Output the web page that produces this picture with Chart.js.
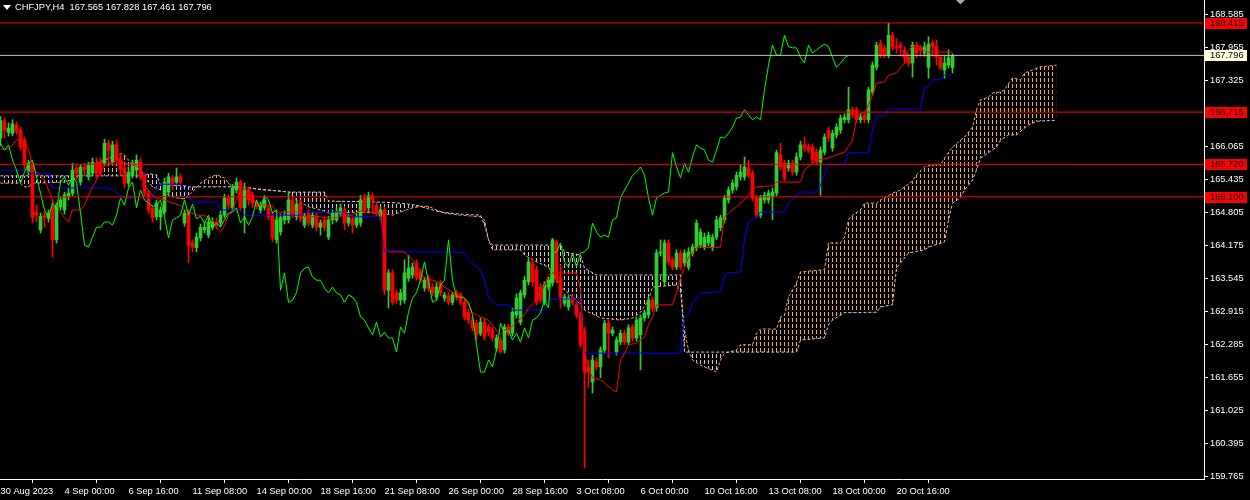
<!DOCTYPE html>
<html>
<head>
<meta charset="utf-8">
<script src="https://cdn.jsdelivr.net/npm/chart.js@4.4.0/dist/chart.umd.min.js"></script>
<style>
  html, body { margin: 0; padding: 0; background: #000; }
  #wrap { position: relative; width: 1250px; height: 500px; }
  #title { position: absolute; left: 15px; top: 2px; color: #fff; font: 9.3px "Liberation Sans", Arial, sans-serif; white-space: pre; }
  #arrow { position: absolute; left: 3px; top: 5px; width: 0; height: 0;
           border-left: 4px solid transparent; border-right: 4px solid transparent; border-top: 5px solid #fff; }
</style>
</head>
<body>
<div id="wrap">
  <canvas id="chart" width="1250" height="500"></canvas>
  <div id="arrow"></div>
  <div id="title">CHFJPY,H4  167.565 167.828 167.461 167.796</div>
</div>
<script>
// CHFJPY H4 candles, bar 0 = 30 Aug 2023 08:00
var opens = [
  166.22,166.55,166.33,166.31,166.47,166.37,166.18,165.57,165.71,164.81,
  164.47,164.75,164.69,164.90,164.28,164.90,164.85,165.10,165.17,165.65,
  165.38,165.67,165.48,165.55,165.74,165.76,165.74,166.12,165.76,166.09,
  165.84,165.65,165.36,165.51,165.61,165.76,165.48,165.17,164.89,164.72,
  164.72,164.81,165.19,165.46,165.38,165.48,164.60,164.79,164.22,164.13,
  164.32,164.47,164.37,164.52,164.62,164.60,164.75,165.08,164.89,165.23,
  165.38,164.89,165.23,165.13,164.98,164.85,164.90,164.89,164.75,164.28,
  164.43,164.66,164.66,165.04,164.72,164.98,164.56,164.79,164.56,164.73,
  164.52,164.66,164.33,164.66,164.66,164.79,164.85,164.60,164.68,164.56,
  164.60,165.08,164.89,165.12,164.94,164.72,164.85,163.32,163.65,163.27,
  163.13,163.13,163.55,163.61,163.84,163.67,163.36,163.55,163.38,163.19,
  163.46,163.17,163.21,163.09,163.27,163.23,163.09,162.90,162.75,162.69,
  162.50,162.71,162.62,162.56,162.22,162.37,162.18,162.62,162.50,162.85,
  162.71,163.23,163.48,163.84,163.71,163.38,163.09,163.38,163.46,164.24,
  163.57,163.07,163.00,163.17,163.04,162.85,162.56,161.86,161.57,161.95,
  161.86,162.18,162.69,162.50,162.14,162.33,162.50,162.33,162.62,162.41,
  162.47,162.79,162.85,163.13,162.98,164.03,163.48,164.22,163.90,163.76,
  164.03,163.84,163.76,164.03,164.13,164.18,164.14,164.22,164.13,164.33,
  164.51,164.66,165.04,165.23,165.29,165.48,165.48,165.65,165.55,165.08,
  164.75,165.04,165.04,165.10,165.17,165.90,165.74,165.65,165.74,165.57,
  165.86,166.09,166.05,166.05,165.95,165.76,165.95,166.37,166.03,166.28,
  166.37,166.57,166.57,166.76,166.76,166.57,166.66,166.57,167.10,167.57,
  168.03,167.94,167.80,168.18,167.96,167.99,167.90,167.76,167.65,167.99,
  167.94,167.84,167.57,168.03,167.97,167.76,167.52,167.61,167.565
];
var highs = [
  166.63,166.61,166.51,166.57,166.53,166.43,166.24,165.80,165.76,164.94,
  164.79,164.81,164.85,165.04,164.98,165.10,165.19,165.27,165.74,165.71,
  165.72,165.74,165.76,165.84,165.84,165.84,166.20,166.18,166.16,166.18,
  165.90,165.71,165.67,165.80,165.90,165.84,165.54,165.23,164.94,165.04,
  164.91,165.46,165.55,165.51,165.65,165.54,164.85,164.85,164.28,164.41,
  164.58,164.62,164.70,164.70,164.70,164.83,165.15,165.13,165.34,165.46,
  165.42,165.36,165.29,165.19,165.04,165.00,165.12,164.94,164.81,164.72,
  164.77,164.83,165.17,165.10,165.04,165.04,164.79,164.85,164.81,164.79,
  164.66,164.72,164.73,164.85,164.89,164.96,164.91,164.77,164.73,164.79,
  165.13,165.15,165.19,165.17,165.00,164.92,164.91,163.71,163.71,163.32,
  163.34,163.90,163.99,163.84,163.90,163.73,163.57,163.61,163.44,163.46,
  163.51,163.28,163.27,163.28,163.32,163.28,163.15,162.96,162.81,162.75,
  162.79,162.79,162.67,162.62,162.47,162.43,162.67,162.67,162.98,163.25,
  163.32,163.59,163.93,163.93,163.78,163.44,163.48,163.57,164.31,164.28,
  163.80,163.25,163.23,163.23,163.09,162.90,162.62,161.99,162.08,162.03,
  162.24,162.75,162.75,162.62,162.43,162.56,162.56,162.66,162.67,162.81,
  162.85,162.94,163.19,163.19,164.09,164.28,164.28,164.28,163.95,164.09,
  164.09,164.09,164.13,164.20,164.66,164.49,164.41,164.43,164.39,164.73,
  164.75,165.13,165.29,165.42,165.57,165.71,165.86,165.80,165.61,165.13,
  165.13,165.19,165.23,165.27,165.99,166.12,165.80,165.80,165.80,165.94,
  166.16,166.24,166.11,166.11,166.01,166.05,166.30,166.43,166.37,166.49,
  166.66,166.68,167.19,166.81,166.81,166.68,166.72,167.19,167.67,168.05,
  168.09,167.99,168.41,168.24,168.11,168.05,167.96,167.82,168.05,168.05,
  167.99,168.05,168.15,168.09,168.09,167.80,167.80,167.90,167.828
];
var lows = [
  166.08,166.22,166.26,166.26,166.29,165.99,165.61,165.52,164.60,164.62,
  164.41,164.52,164.62,163.95,164.22,164.85,164.77,165.04,165.12,165.42,
  165.32,165.51,165.42,165.50,165.46,165.50,165.69,165.76,165.71,165.74,
  165.51,165.27,165.30,165.46,165.46,165.42,165.12,164.79,164.62,164.66,
  164.47,164.77,165.14,165.23,165.30,165.30,164.54,163.84,164.05,164.05,
  164.26,164.41,164.32,164.47,164.49,164.54,164.70,164.87,164.83,165.17,
  164.83,164.41,164.94,164.90,164.87,164.79,164.85,164.66,164.24,164.22,
  164.37,164.58,164.60,164.70,164.66,164.62,164.51,164.54,164.51,164.45,
  164.37,164.45,164.28,164.58,164.62,164.73,164.47,164.54,164.41,164.51,
  164.54,164.79,164.83,164.79,164.73,164.66,163.23,162.98,163.04,163.07,
  163.04,163.07,163.49,163.55,163.51,163.46,163.30,163.30,163.21,163.13,
  163.21,163.11,163.04,163.04,163.13,163.04,162.75,162.69,162.54,162.37,
  162.45,162.37,162.45,162.35,162.16,162.12,162.12,162.45,162.45,162.79,
  162.66,163.17,163.42,163.40,163.04,163.07,163.04,163.32,163.40,163.46,
  162.98,163.02,162.94,163.04,162.79,162.24,159.93,161.47,161.36,161.80,
  161.65,162.12,162.03,162.45,162.08,162.28,162.28,162.28,162.35,162.35,
  161.80,162.73,162.79,162.92,162.92,163.97,163.42,163.80,163.71,163.71,
  163.71,163.78,163.71,163.97,164.07,164.13,164.09,164.16,164.07,164.28,
  164.45,164.60,164.98,165.17,165.23,165.42,165.42,165.46,165.02,164.70,
  164.70,164.98,164.98,164.66,165.12,165.61,165.40,165.59,165.51,165.51,
  165.80,165.97,165.94,165.74,165.71,165.13,165.90,166.16,165.97,166.22,
  166.31,166.51,166.51,166.60,166.51,166.51,166.51,166.51,167.04,167.52,
  167.75,167.75,167.75,167.90,167.84,167.78,167.65,167.59,167.38,167.75,
  167.78,167.78,167.36,167.78,167.61,167.52,167.36,167.56,167.461
];
var closes = [
  166.55,166.37,166.41,166.49,166.35,166.05,165.71,165.74,164.71,164.75,
  164.73,164.71,164.79,164.28,164.94,165.04,165.14,165.17,165.61,165.55,
  165.67,165.63,165.71,165.76,165.55,165.55,166.12,165.99,166.09,165.80,
  165.61,165.36,165.57,165.74,165.80,165.48,165.17,164.85,164.70,164.98,
  164.85,165.38,165.48,165.32,165.48,165.38,164.79,164.18,164.14,164.33,
  164.52,164.52,164.62,164.62,164.56,164.75,165.08,164.94,165.27,165.38,
  164.89,165.23,165.04,164.98,164.92,164.94,165.04,164.72,164.32,164.66,
  164.70,164.75,165.04,164.75,164.96,164.68,164.73,164.60,164.75,164.52,
  164.60,164.52,164.66,164.79,164.81,164.89,164.60,164.72,164.56,164.72,
  165.04,164.85,165.12,165.04,164.79,164.85,163.32,163.65,163.09,163.13,
  163.27,163.65,163.74,163.76,163.57,163.51,163.51,163.36,163.27,163.38,
  163.27,163.23,163.09,163.23,163.19,163.09,162.81,162.75,162.60,162.47,
  162.71,162.43,162.52,162.41,162.41,162.14,162.62,162.50,162.90,163.17,
  163.27,163.51,163.86,163.48,163.09,163.13,163.42,163.51,164.28,163.51,
  163.19,163.19,163.17,163.09,162.85,162.28,161.76,161.76,161.99,161.86,
  162.18,162.69,162.50,162.56,162.37,162.50,162.33,162.60,162.41,162.75,
  162.79,162.89,163.13,162.98,164.03,164.05,164.22,163.86,163.76,164.03,
  163.76,164.03,164.05,164.14,164.60,164.43,164.33,164.37,164.33,164.66,
  164.70,165.08,165.23,165.36,165.51,165.57,165.67,165.51,165.08,164.75,
  165.08,165.13,165.17,165.19,165.94,165.67,165.46,165.74,165.57,165.86,
  166.09,166.03,165.99,165.80,165.76,165.99,166.24,166.22,166.31,166.43,
  166.60,166.62,166.76,166.66,166.57,166.62,166.57,167.14,167.61,167.99,
  167.80,167.80,168.18,167.96,167.94,167.94,167.76,167.65,167.99,167.84,
  167.90,167.96,168.01,167.97,167.76,167.57,167.65,167.75,167.796
];

// Ichimoku lines, [bar, price] vertices
var tenkanPts = [
  [0,166.01],[2,166.01],[3,166.09],[4,166.18],[5,166.22],[6,166.18],[7,165.99],[8,165.71],[9,165.57],
  [10,165.50],[11,165.42],[12,165.23],[13,165.04],[14,164.94],[15,164.81],[16,164.70],[17,164.62],
  [18,164.85],[20,164.85],[21,164.94],[22,165.13],[23,165.29],[24,165.42],[25,165.57],[26,165.69],
  [27,165.73],[28,165.74],[29,165.80],[31,165.74],[33,165.71],[35,165.65],[36,165.32],[37,165.23],
  [38,165.13],[39,165.08],[41,165.04],[43,164.98],[45,164.94],[46,164.85],[49,164.75],[51,164.75],
  [53,164.66],[54,164.51],[55,164.43],[56,164.56],[57,164.75],[58,164.85],[59,165.04],[60,165.27],
  [62,165.27],[63,165.10],[64,164.94],[68,164.94],[69,164.79],[71,164.81],[75,164.81],[76,164.72],
  [80,164.72],[81,164.70],[84,164.70],[85,164.75],[88,164.75],[89,164.79],[90,164.83],[92,164.83],
  [93,164.79],[95,164.79],[96,164.12],[97,164.05],[101,164.05],[102,163.97],[103,163.90],[104,163.80],
  [105,163.65],[106,163.55],[108,163.51],[110,163.46],[111,163.38],[113,163.28],[115,163.23],
  [116,163.17],[118,162.89],[120,162.81],[122,162.75],[125,162.47],[126,162.56],[128,162.64],
  [129,162.71],[131,162.85],[132,162.98],[134,163.13],[135,163.23],[137,163.61],[138,163.65],
  [144,163.65],[145,163.32],[146,162.12],[147,161.84],[148,161.65],[150,161.61],[151,161.55],
  [153,161.42],[154,161.38],[155,161.99],[156,162.12],[157,162.28],[159,162.31],[161,162.43],
  [162,162.66],[163,162.81],[164,163.04],[168,163.04],[169,163.27],[170,163.55],[171,163.76],
  [172,163.95],[174,164.13],[180,164.14],[181,164.72],[182,164.79],[184,164.91],[186,165.04],
  [188,165.23],[189,165.29],[193,165.31],[194,165.38],[200,165.38],[201,165.61],[203,165.74],
  [204,165.80],[207,165.84],[209,165.90],[211,165.95],[213,166.18],[214,166.57],[215,166.70],
  [216,166.70],[217,166.85],[218,167.04],[219,167.27],[221,167.29],[222,167.42],[224,167.46],
  [225,167.56],[226,167.65],[227,167.90],[228,167.96],[230,167.96],[231,167.86],[238,167.86]
];
var kijunPts = [
  [0,165.61],[6,165.61],[7,165.57],[8,165.55],[12,165.55],[13,165.27],[27,165.27],[28,165.23],
  [30,165.13],[31,165.08],[38,165.08],[39,165.29],[40,165.34],[45,165.34],[46,165.23],[48,165.00],
  [54,165.00],[55,164.85],[60,164.85],[61,164.75],[75,164.75],[76,164.81],[86,164.81],[87,164.72],
  [95,164.72],[96,164.07],[100,164.07],[101,164.05],[114,164.05],[116,164.03],[117,163.90],
  [119,163.76],[120,163.71],[121,163.51],[122,163.17],[123,163.10],[124,163.04],[127,163.04],
  [128,162.94],[136,162.94],[137,163.15],[145,163.15],[146,162.12],[170,162.12],[171,162.81],
  [172,162.85],[173,163.08],[174,163.19],[175,163.27],[180,163.29],[181,163.61],[182,163.65],
  [185,163.67],[186,164.28],[187,164.62],[189,164.70],[190,164.81],[196,164.81],[197,164.98],
  [199,165.13],[200,165.19],[204,165.19],[205,165.32],[206,165.55],[207,165.71],[211,165.71],
  [212,165.94],[217,165.94],[218,166.37],[219,166.64],[221,166.64],[222,166.77],[230,166.77],
  [231,167.19],[232,167.21],[233,167.33],[235,167.33],[236,167.42],[238,167.42]
];
var spanAPts = [
  [0,165.36],[5,165.36],[6,165.29],[7,165.29],[8,165.36],[16,165.38],[19,165.46],[20,165.57],
  [22,165.71],[24,165.74],[26,165.80],[28,165.86],[30,165.92],[31,165.90],[32,165.80],[33,165.71],
  [35,165.61],[36,165.50],[37,165.38],[38,165.29],[40,165.23],[42,165.13],[44,165.08],[46,165.06],
  [47,165.13],[49,165.27],[50,165.36],[52,165.46],[54,165.52],[56,165.46],[57,165.36],[58,165.29],
  [62,165.27],[66,165.23],[70,165.21],[72,165.19],[74,165.04],[77,164.91],[80,164.85],[82,164.79],
  [90,164.81],[95,164.79],[98,164.75],[100,164.81],[103,164.89],[105,164.92],[107,164.92],
  [109,164.85],[111,164.79],[115,164.75],[120,164.72],[121,164.66],[122,164.28],[123,164.09],
  [130,164.09],[131,163.99],[134,163.86],[137,163.76],[139,163.51],[141,163.32],[144,163.13],
  [146,162.94],[150,162.79],[155,162.75],[158,162.79],[160,162.90],[162,163.13],[163,163.38],
  [169,163.42],[170,163.29],[171,162.56],[172,162.18],[173,161.99],[175,161.89],[179,161.76],
  [180,161.99],[181,162.12],[184,162.18],[185,162.28],[188,162.28],[189,162.50],[190,162.58],
  [194,162.58],[195,162.81],[196,162.85],[197,163.19],[199,163.46],[200,163.67],[206,163.71],
  [207,164.22],[210,164.22],[211,164.33],[212,164.66],[213,164.75],[215,164.85],[216,164.98],
  [219,164.98],[220,165.04],[221,165.08],[223,165.17],[225,165.23],[226,165.29],[228,165.40],
  [229,165.52],[231,165.67],[233,165.71],[235,165.71],[236,165.84],[238,166.05],[240,166.18],
  [241,166.24],[243,166.43],[244,166.76],[245,166.95],[247,167.00],[248,167.08],[250,167.10],
  [251,167.14],[253,167.37],[255,167.33],[256,167.46],[258,167.52],[260,167.58],[264,167.61]
];
var spanBPts = [
  [0,165.50],[36,165.50],[37,165.54],[39,165.52],[40,165.33],[46,165.31],[47,165.29],[58,165.29],
  [62,165.27],[72,165.19],[81,165.19],[82,165.02],[95,165.00],[100,164.98],[104,164.94],
  [107,164.87],[110,164.81],[115,164.77],[120,164.75],[121,164.56],[122,164.28],[123,164.18],
  [140,164.18],[141,164.05],[145,163.99],[146,163.74],[149,163.61],[170,163.61],[171,162.14],
  [199,162.14],[200,162.37],[206,162.41],[207,162.66],[208,162.75],[211,162.89],[219,162.90],
  [220,163.00],[223,163.04],[224,163.74],[225,163.84],[227,164.03],[231,164.09],[232,164.14],
  [236,164.24],[237,164.66],[238,164.98],[240,165.08],[241,165.23],[243,165.42],[244,165.61],
  [245,165.84],[247,165.94],[249,166.05],[250,166.18],[252,166.28],[254,166.28],[256,166.41],
  [257,166.47],[259,166.54],[264,166.56]
];
var chikouShift = 26;

var levelPrices = [168.415, 166.715, 165.720, 165.100];
var bidPrice = 167.796;
var priceTicks = [168.585, 167.955, 167.325, 166.065, 165.435, 164.805, 164.175,
                  163.545, 162.915, 162.285, 161.655, 161.025, 160.395, 159.765];
var timeLabels = ['30 Aug 2023', '4 Sep 00:00', '6 Sep 16:00', '11 Sep 08:00', '14 Sep 00:00',
                  '18 Sep 16:00', '21 Sep 08:00', '26 Sep 00:00', '28 Sep 16:00', '3 Oct 08:00',
                  '6 Oct 00:00', '10 Oct 16:00', '13 Oct 08:00', '18 Oct 00:00', '20 Oct 16:00'];
var barsPerLabel = 16;

var xMin = -0.125, xMax = 300.875;
var yMin = 159.721, yMax = 168.852;

var BULL = '#33cc33', BEAR = '#ff0000';
var FONT = '"Liberation Sans", Arial, sans-serif';

var canvas = document.getElementById('chart');
var ctx = canvas.getContext('2d');

// dotted vertical hatching, one column per bar
function hatch(color) {
  var c = document.createElement('canvas');
  c.width = 4;
  c.height = 6;
  var g = c.getContext('2d');
  g.fillStyle = color;
  g.fillRect(0, 0, 1, 4);
  return ctx.createPattern(c, 'repeat');
}

function toXY(pts) {
  return pts.map(function (p) { return { x: p[0], y: p[1] }; });
}

function flatLine(v) {
  return [{ x: xMin, y: v }, { x: xMax, y: v }];
}

var candleColors = closes.map(function (c, i) { return c >= opens[i] ? BULL : BEAR; });

var chikou = closes.slice(chikouShift).map(function (c, i) { return { x: i, y: c }; });

var datasets = [
  {
    type: 'line', data: toXY(spanAPts), borderColor: '#f4a460', borderWidth: 1, borderDash: [3, 2],
    pointRadius: 0, fill: { target: 1, above: hatch('#f4a460'), below: hatch('#d8bfd8') }, order: 20
  },
  {
    type: 'line', data: toXY(spanBPts), borderColor: '#d8bfd8', borderWidth: 1, borderDash: [3, 2],
    pointRadius: 0, fill: false, order: 19
  },
  {
    type: 'bar', data: lows.map(function (l, i) { return { x: i, y: [l, highs[i]] }; }),
    backgroundColor: candleColors, barThickness: 1, grouped: false, borderWidth: 0, order: 12
  },
  {
    type: 'bar', data: opens.map(function (o, i) { return { x: i, y: [o, closes[i]] }; }),
    backgroundColor: candleColors, barThickness: 3, grouped: false, borderWidth: 0,
    minBarLength: 1, order: 11
  },
  { type: 'line', data: toXY(kijunPts), borderColor: '#0000ff', borderWidth: 1, pointRadius: 0, fill: false, order: 8 },
  { type: 'line', data: toXY(tenkanPts), borderColor: '#ff0000', borderWidth: 1, pointRadius: 0, fill: false, order: 7 },
  { type: 'line', data: chikou, borderColor: '#00ff00', borderWidth: 1, pointRadius: 0, fill: false, order: 6 }
];

levelPrices.forEach(function (v) {
  datasets.push({ type: 'line', data: flatLine(v), borderColor: '#ff0000', borderWidth: 1, pointRadius: 0, fill: false, order: 2 });
});
datasets.push({ type: 'line', data: flatLine(bidPrice), borderColor: '#c0c0c0', borderWidth: 1, pointRadius: 0, fill: false, order: 1 });

// price labels on the right axis and the chart shift marker
var priceBoxes = {
  id: 'priceBoxes',
  afterDraw: function (chart) {
    var c = chart.ctx;
    var y = chart.scales.y;
    var right = chart.chartArea.right;
    c.save();
    c.font = '9.3px ' + FONT;
    c.textBaseline = 'middle';
    function box(v, bg) {
      var py = Math.round(y.getPixelForValue(v));
      c.fillStyle = bg;
      c.fillRect(right + 1, py - 5, 42, 11);
      c.fillStyle = '#000';
      c.fillText(v.toFixed(3), right + 6, py + 0.5);
    }
    levelPrices.forEach(function (v) { box(v, '#ff0000'); });
    box(bidPrice, '#ffffe0');
    var sx = chart.scales.x.getPixelForValue(240);
    c.fillStyle = '#a8a8a8';
    c.beginPath();
    c.moveTo(sx - 4.5, 0);
    c.lineTo(sx + 4.5, 0);
    c.lineTo(sx, 4.5);
    c.closePath();
    c.fill();
    c.restore();
  }
};

new Chart(ctx, {
  type: 'line',
  data: { datasets: datasets },
  plugins: [priceBoxes],
  options: {
    responsive: false,
    animation: false,
    devicePixelRatio: 1,
    events: [],
    layout: { padding: 0 },
    plugins: { legend: { display: false }, tooltip: { enabled: false } },
    scales: {
      x: {
        type: 'linear', min: xMin, max: xMax, offset: false,
        afterBuildTicks: function (s) {
          s.ticks = timeLabels.map(function (_, k) { return { value: k * barsPerLabel }; });
        },
        afterFit: function (s) {
          s.height = 21;
          s.paddingLeft = 0;
          s.paddingRight = 0;
        },
        ticks: {
          color: '#ffffff', font: { family: FONT, size: 9.3 }, padding: 3, align: 'start',
          maxRotation: 0, autoSkip: false,
          callback: function (v) { return timeLabels[Math.round(v / barsPerLabel)]; }
        },
        grid: { drawOnChartArea: false, drawTicks: true, tickLength: 4, color: '#ffffff' },
        border: { display: true, color: '#ffffff', width: 1 }
      },
      y: {
        type: 'linear', position: 'right', min: yMin, max: yMax,
        afterBuildTicks: function (s) {
          s.ticks = priceTicks.map(function (v) { return { value: v }; });
        },
        afterFit: function (s) {
          s.width = 46;
          s.paddingTop = 0;
          s.paddingBottom = 0;
        },
        ticks: {
          color: '#ffffff', font: { family: FONT, size: 9.3 }, padding: 2, autoSkip: false,
          callback: function (v) { return v.toFixed(3); }
        },
        grid: { drawOnChartArea: false, drawTicks: true, tickLength: 4, color: '#ffffff' },
        border: { display: true, color: '#ffffff', width: 1 }
      }
    }
  }
});
</script>
</body>
</html>
